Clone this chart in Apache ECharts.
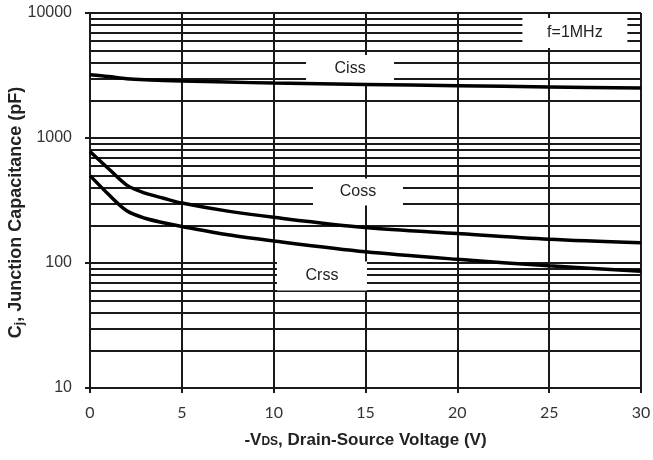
<!DOCTYPE html>
<html>
<head>
<meta charset="utf-8">
<script src="https://cdn.jsdelivr.net/npm/echarts@6/dist/echarts.min.js"></script>
<style>
  html, body { margin: 0; padding: 0; background: #fff; }
  #main { width: 653px; height: 460px; }
</style>
</head>
<body>
<div id="main"></div>
<script>
  // -VDS (V)
  var voltage = [0, 1, 2, 3, 4, 5, 7.5, 10, 15, 20, 25, 30]
  // capacitances (pF)
  var ciss = [3200, 3100, 2980, 2920, 2890, 2860, 2800, 2750, 2680, 2620, 2560, 2510]
  var coss = [780, 570, 420, 362, 330, 302, 260, 232, 192, 172, 155, 145]
  var crss = [500, 355, 262, 228, 210, 196, 168, 150, 123, 107, 95, 86]

  // minor horizontal grid lines of the log axis
  var minorLines = [20, 30, 40, 50, 60, 70, 80, 90,
    200, 300, 400, 500, 600, 700, 800, 900,
    2000, 3000, 4000, 5000, 6000, 7000, 8000, 9000]

  // labels on the plot
  var labelText = ['Ciss', 'Coss', 'Crss', 'f=1MHz']
  var labelX = [14.16, 14.59, 12.63, 26.4]
  var labelY = [3565, 370, 78.7, 6918]
  var boxW = [88, 90, 90, 105]
  var boxH = [28, 27, 29, 30]

  var gridColor = '#1a1a1a'

  var myChart = echarts.init(document.getElementById('main'))

  function pair(ys) {
    return voltage.map(function (v, i) { return [v, ys[i]] })
  }

  var curveStyle = { color: '#000', width: 3.5 }

  var option = {
    animation: false,
    backgroundColor: '#fff',
    grid: { left: 90, right: 12, top: 13, bottom: 72, outerBoundsMode: 'none', containLabel: false },
    xAxis: {
      type: 'value',
      min: 0,
      max: 30,
      interval: 5,
      axisLine: { lineStyle: { color: gridColor, width: 2 } },
      axisTick: { show: true, length: 5, lineStyle: { color: gridColor, width: 2 } },
      splitLine: { show: true, lineStyle: { color: gridColor, width: 2 } },
      axisLabel: { color: '#333', fontSize: 16, fontFamily: 'Lato', margin: 17 },
      name: '{a|-V}{s|DS}{a|, Drain-Source Voltage (V)}',
      nameLocation: 'middle',
      nameGap: 44,
      nameTextStyle: {
        rich: {
          a: { fontSize: 17, fontWeight: 'bold', color: '#222', fontFamily: 'Liberation Sans' },
          s: { fontSize: 12, fontWeight: 'bold', color: '#222', fontFamily: 'Liberation Sans', padding: [3, 0, 0, 0] }
        }
      }
    },
    yAxis: {
      type: 'log',
      logBase: 10,
      min: 10,
      max: 10000,
      axisLine: { show: true, lineStyle: { color: gridColor, width: 2 } },
      axisTick: { show: true, length: 5, lineStyle: { color: gridColor, width: 2 } },
      splitLine: { show: true, lineStyle: { color: gridColor, width: 2 } },
      axisLabel: {
        color: '#333', fontSize: 16, fontFamily: 'Liberation Sans', margin: 18,
        formatter: function (v) { return String(Math.round(v)) }
      },
      name: '{a|C}{s|j}{a|, Junction Capacitance (pF)}',
      nameLocation: 'middle',
      nameRotate: 90,
      nameGap: 64,
      nameMoveOverlap: false,
      nameTextStyle: {
        padding: [0, 24, 0, 0],
        rich: {
          a: { fontSize: 18, fontWeight: 'bold', color: '#222', fontFamily: 'Liberation Sans' },
          s: { fontSize: 12, fontWeight: 'bold', color: '#222', fontFamily: 'Liberation Sans', padding: [8, 0, 0, 0] }
        }
      }
    },
    series: [
      {
        name: 'grid',
        type: 'line',
        z: 1,
        data: [],
        markLine: {
          z: 1,
          silent: true,
          symbol: 'none',
          label: { show: false },
          lineStyle: { color: gridColor, width: 2, type: 'solid' },
          data: minorLines.map(function (v) { return { yAxis: v } })
        }
      },
      {
        name: 'labels',
        type: 'custom',
        z: 3,
        silent: true,
        data: labelText.map(function (t, i) { return [labelX[i], labelY[i], i] }),
        renderItem: function (params, api) {
          var i = api.value(2)
          var p = api.coord([api.value(0), api.value(1)])
          return {
            type: 'group',
            x: p[0],
            y: p[1],
            children: [
              { type: 'rect', shape: { x: -boxW[i] / 2, y: -boxH[i] / 2, width: boxW[i], height: boxH[i] }, style: { fill: '#fff' } },
              { type: 'text', style: { text: labelText[i], x: 0, y: 0, align: 'center', verticalAlign: 'middle', fill: '#222', font: '16px "Liberation Sans"' } }
            ]
          }
        }
      },
      { name: 'Ciss', type: 'line', z: 5, smooth: 0.3, symbol: 'none', lineStyle: curveStyle, data: pair(ciss) },
      { name: 'Coss', type: 'line', z: 5, smooth: 0.3, symbol: 'none', lineStyle: curveStyle, data: pair(coss) },
      { name: 'Crss', type: 'line', z: 5, smooth: 0.3, symbol: 'none', lineStyle: curveStyle, data: pair(crss) }
    ]
  }

  myChart.setOption(option)
</script>
</body>
</html>
